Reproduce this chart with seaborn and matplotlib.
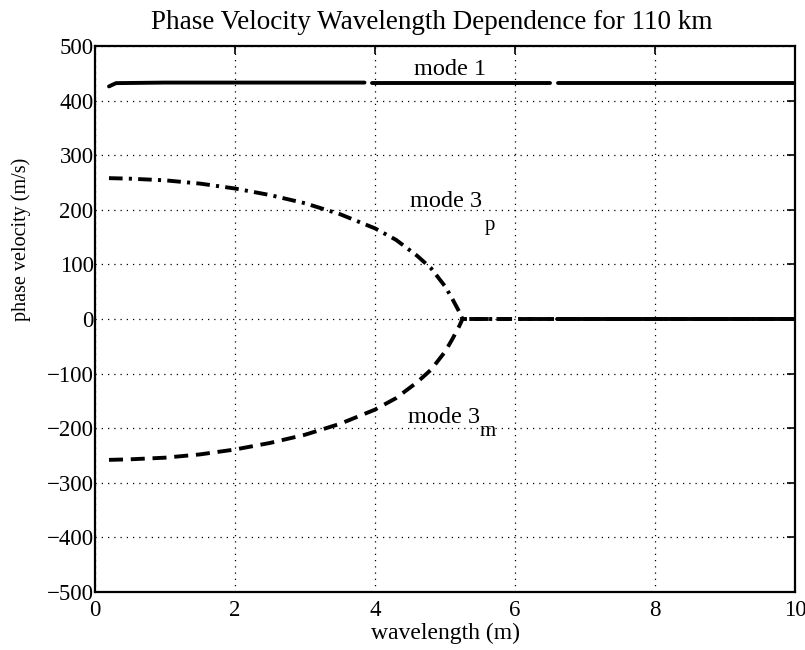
import numpy as np
import pandas as pd
import matplotlib
matplotlib.use("Agg")
import matplotlib.pyplot as plt
import seaborn as sns

# ---- data ----
mode1_seg = [0, 0, 0, 0, 0, 0, 1, 1, 1, 1, 2, 2, 2, 2]
mode1_x = [0.2, 0.3, 1.0, 2.0, 3.0, 3.85, 3.95, 5.0, 6.0, 6.5, 6.62, 7.5, 8.5, 10.0]
mode1_v = [426, 432, 433, 433, 433, 433, 433, 433, 433, 433, 433, 433, 433, 433]

mode3p_x = [0.2, 0.5, 1.0, 1.5, 2.0, 2.5, 3.0, 3.5, 4.0, 4.3, 4.6, 4.8, 5.0, 5.1, 5.2, 5.25, 6.0, 7.0, 8.0, 9.0, 10.0]
mode3p_v = [258, 257, 254, 248, 239, 227, 212, 192, 166, 145, 116, 93, 60, 38, 14, 0, 0, 0, 0, 0, 0]

mode3m_x = [0.2, 0.5, 1.0, 1.5, 2.0, 2.5, 3.0, 3.5, 4.0, 4.3, 4.6, 4.8, 5.0, 5.1, 5.2, 5.25, 6.0, 7.0, 8.0, 9.0, 10.0]
mode3m_v = [-258, -257, -254, -248, -239, -227, -212, -192, -166, -145, -116, -93, -60, -38, -14, 0, 0, 0, 0, 0, 0]

zero_x = [6.6, 10.0]
zero_v = [0, 0]

xticks = [0, 2, 4, 6, 8, 10]
yticks = [-500, -400, -300, -200, -100, 0, 100, 200, 300, 400, 500]

title = "Phase Velocity Wavelength Dependence for 110 km"
xlabel = "wavelength (m)"
ylabel = "phase velocity (m/s)"

# ---- plot ----
sns.set_theme(style="white")
plt.rcParams["font.family"] = ["Liberation Serif", "DejaVu Serif"]

fig = plt.figure(figsize=(8.05, 6.5), dpi=100)
ax = fig.add_axes([95 / 805, 1 - 592 / 650, 700 / 805, 546 / 650])

lw = 2.8
df1 = pd.DataFrame({"x": mode1_x, "v": mode1_v, "seg": mode1_seg})
sns.lineplot(data=df1, x="x", y="v", units="seg", ax=ax, color="black", lw=lw,
             sort=False, estimator=None)
sns.lineplot(x=mode3p_x, y=mode3p_v, ax=ax, color="black", lw=lw, sort=False, estimator=None,
             linestyle=(0, (3.5, 1.6, 0.8, 1.6)))
sns.lineplot(x=mode3m_x, y=mode3m_v, ax=ax, color="black", lw=lw, sort=False, estimator=None,
             linestyle=(0, (3.6, 2.0)))
sns.lineplot(x=zero_x, y=zero_v, ax=ax, color="black", lw=lw, sort=False, estimator=None)

ax.set_xlim(0, 10)
ax.set_ylim(-500, 500)
ax.set_xticks(xticks)
ax.set_yticks(yticks)
ax.set_xticklabels([str(t) for t in xticks])
ax.set_yticklabels([("\u2212" + str(-t)) if t < 0 else str(t) for t in yticks])
ax.grid(True, color="black", linestyle=(0, (1, 4)), linewidth=0.9)
ax.tick_params(direction="in", length=6, width=1.2, top=True, right=True,
               labelsize=16.5, colors="black")
ax.tick_params(axis="x", pad=6)
ax.tick_params(axis="y", pad=1)
for s in ax.spines.values():
    s.set_color("black")
    s.set_linewidth(1.6)

ax.set_title(title, fontsize=19.5, color="black", pad=12, x=0.481)
ax.set_xlabel(xlabel, fontsize=17, color="black", labelpad=1)
ax.set_ylabel(ylabel, fontsize=14.5, color="black")
ax.yaxis.set_label_coords(-0.0914, 0.645)

ax.text(4.55, 447, "mode 1", fontsize=17.5, color="black")
ax.text(4.5, 205, "mode 3", fontsize=17.5, color="black")
ax.text(5.57, 163, "p", fontsize=15, color="black")
ax.text(4.47, -190, "mode 3", fontsize=17.5, color="black")
ax.text(5.5, -214, "m", fontsize=15, color="black")

fig.savefig("out.png", dpi=100)
